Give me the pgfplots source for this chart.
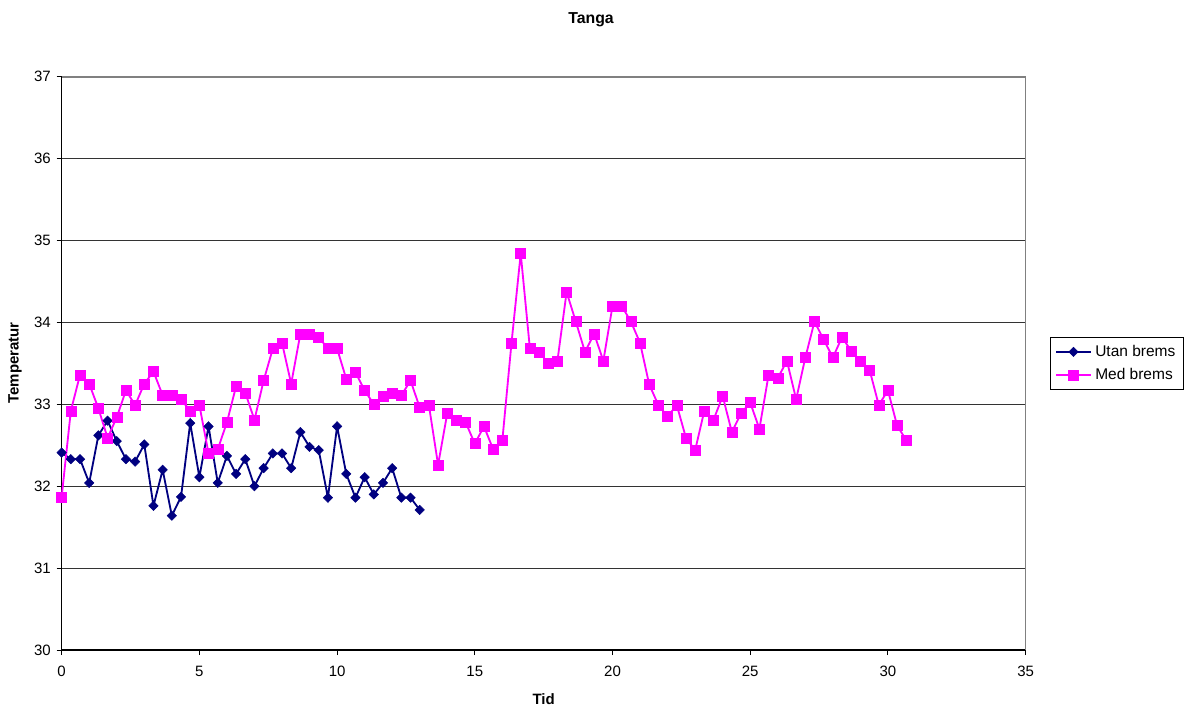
\documentclass[border=0pt]{standalone}
\usepackage{fontspec}
\setmainfont{Liberation Sans}
\usepackage{pgfplots}
\pgfplotsset{compat=1.18}
\usepackage{pgfplotstable}

\definecolor{utan}{HTML}{000080}
\definecolor{med}{HTML}{FF00FF}

% Temperature without brakes (x in hours)
\pgfplotstableread{
x y
0 32.41
0.333 32.33
0.667 32.33
1 32.04
1.333 32.62
1.667 32.80
2 32.55
2.333 32.33
2.667 32.30
3 32.51
3.333 31.76
3.667 32.20
4 31.64
4.333 31.87
4.667 32.77
5 32.11
5.333 32.73
5.667 32.04
6 32.37
6.333 32.15
6.667 32.33
7 32.00
7.333 32.22
7.667 32.40
8 32.40
8.333 32.22
8.667 32.66
9 32.48
9.333 32.44
9.667 31.86
10 32.73
10.333 32.15
10.667 31.86
11 32.11
11.333 31.90
11.667 32.04
12 32.22
12.333 31.86
12.667 31.86
13 31.71
}\utan

% Temperature with brakes
\pgfplotstableread{
x y
0 31.87
0.333 32.92
0.667 33.36
1 33.25
1.333 32.95
1.667 32.59
2 32.84
2.333 33.17
2.667 32.99
3 33.25
3.333 33.40
3.667 33.11
4 33.11
4.333 33.06
4.667 32.92
5 32.99
5.333 32.40
5.667 32.45
6 32.78
6.333 33.22
6.667 33.14
7 32.81
7.333 33.29
7.667 33.68
8 33.75
8.333 33.25
8.667 33.86
9 33.86
9.333 33.82
9.667 33.68
10 33.68
10.333 33.31
10.667 33.39
11 33.17
11.333 33.00
11.667 33.10
12 33.14
12.333 33.11
12.667 33.29
13 32.96
13.333 32.99
13.667 32.26
14 32.89
14.333 32.81
14.667 32.78
15 32.52
15.333 32.73
15.667 32.45
16 32.56
16.333 33.75
16.667 34.84
17 33.68
17.333 33.64
17.667 33.50
18 33.53
18.333 34.37
18.667 34.01
19 33.64
19.333 33.86
19.667 33.53
20 34.20
20.333 34.20
20.667 34.01
21 33.75
21.333 33.24
21.667 32.99
22 32.85
22.333 32.99
22.667 32.59
23 32.44
23.333 32.92
23.667 32.81
24 33.10
24.333 32.66
24.667 32.89
25 33.02
25.333 32.70
25.667 33.36
26 33.32
26.333 33.53
26.667 33.06
27 33.57
27.333 34.01
27.667 33.79
28 33.57
28.333 33.82
28.667 33.65
29 33.53
29.333 33.42
29.667 32.99
30 33.17
30.333 32.74
30.667 32.56
}\med

\begin{document}
\begin{tikzpicture}[font=\fontsize{9}{11}\selectfont]
\useasboundingbox (0,0) rectangle (715.8pt,426.6pt);
\begin{axis}[
  at={(37pt,36.6pt)}, anchor=south west,
  scale only axis,
  width=578.4pt, height=344pt,
  xmin=0, xmax=35, ymin=30, ymax=37,
  xtick={0,5,...,35}, ytick={30,...,37},
  axis x line*=bottom, axis y line*=left,
  axis line style={-, black, line width=0.8pt},
  tick align=outside, major tick length=3pt,
  tick style={black, line width=0.6pt},
  ymajorgrids, grid style={black!80, line width=0.6pt},
  /pgf/number format/assume math mode=true,
  ticklabel style={font=\fontsize{9}{11}\selectfont},
  xticklabel style={yshift=-3pt},
  legend style={at={(1.025,0.5)}, anchor=west, draw=black,
    font=\fontsize{9.3}{11}\selectfont, row sep=1.5pt, inner xsep=3pt, inner ysep=2.5pt},
  legend cell align=left,
  legend image code/.code={
    \draw[mark repeat=2, mark phase=2, #1, line width=1.1pt]
      plot coordinates {(0pt,0pt) (10.5pt,0pt) (21pt,0pt)};},
  clip=false,
]
\draw[gray, line width=1pt] (rel axis cs:0,1) -- (rel axis cs:1,1) -- (rel axis cs:1,0);
\addplot[color=utan, line width=1.1pt, mark=square*, mark size=2pt,
  mark options={rotate=45, fill=utan, line width=0.3pt}] table {\utan};
\addlegendentry{Utan brems}
\addplot[color=med, line width=1.1pt, mark=square*, mark size=3pt,
  mark options={fill=med, line width=0.3pt}] table {\med};
\addlegendentry{Med brems}
\end{axis}
\node[font=\fontsize{9.5}{11}\selectfont\bfseries] at (354.6pt,414.6pt) {Tanga};
\node[font=\fontsize{9}{11}\selectfont\bfseries] at (326.2pt,7.2pt) {Tid};
\node[font=\fontsize{9}{11}\selectfont\bfseries, rotate=90] at (9pt,208.8pt) {Temperatur};
\end{tikzpicture}
\end{document}
